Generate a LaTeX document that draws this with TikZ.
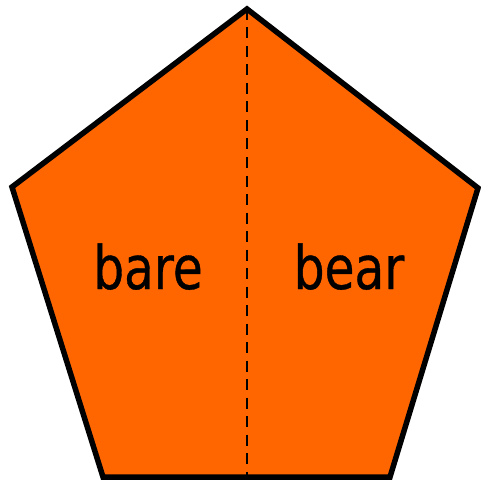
\documentclass[tikz,border=0pt]{standalone}
\usepackage{fontspec}
\newfontfamily\wordfont[FakeStretch=0.81,FakeBold=0.6]{DejaVu Sans}
\definecolor{pentorange}{HTML}{FF6600}

\begin{document}
\begin{tikzpicture}[x=1pt,y=-1pt]
            \useasboundingbox (0,0) rectangle (480,481);

            \coordinate (T) at (247,9);
            \coordinate (R) at (478,188);
            \coordinate (Q) at (390,477);
            \coordinate (P) at (103,477);
            \coordinate (L) at (12,187);
            \coordinate (M) at (247,477);

            \fill[pentorange] (T)--(R)--(Q)--(P)--(L)--cycle;

            \draw[line width=2.5pt,dash pattern=on 11pt off 7.5pt] (T)--(M);

            \draw[line width=5.5pt,line join=miter]
                (T)--(R)--(Q)--(P)--(L)--cycle;

            \node[font=\wordfont\fontsize{60}{60}\selectfont,anchor=base] (bare) at (148,289) {bare};
            \node[font=\wordfont\fontsize{60}{60}\selectfont,anchor=base] (bear) at (349,289) {bear};
        \end{tikzpicture}
\end{document}
